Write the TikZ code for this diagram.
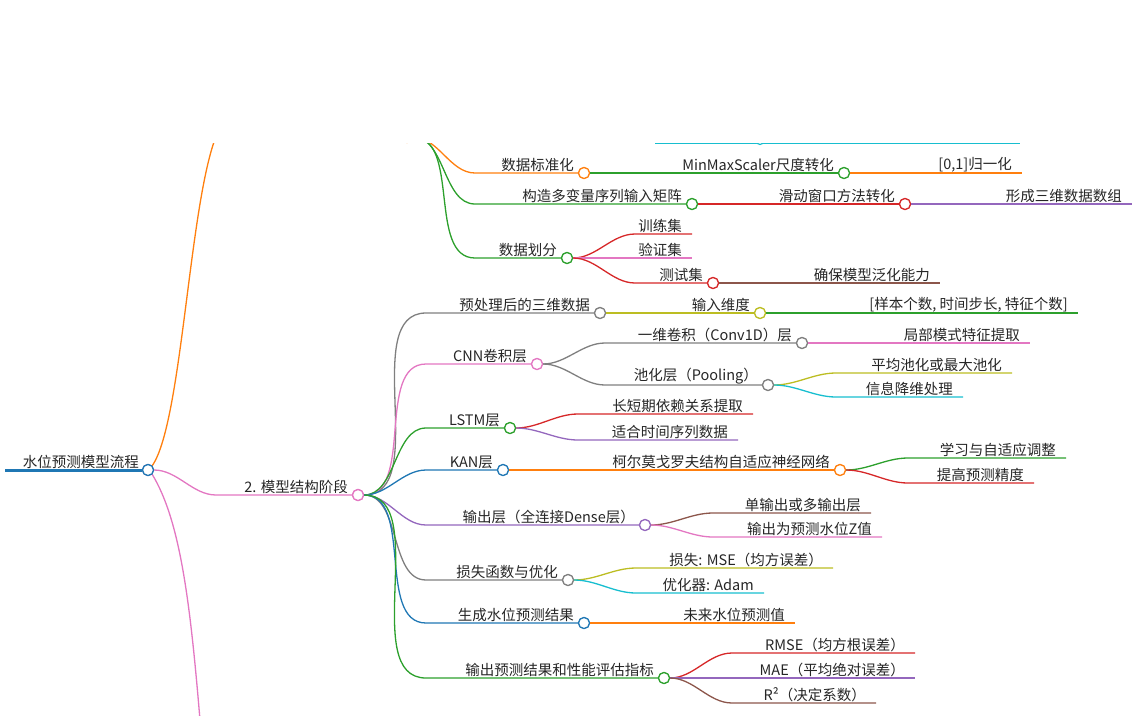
\documentclass[tikz,border=0pt]{standalone}
\usepackage{fontspec}
\setmainfont{Noto Sans CJK SC}
\usetikzlibrary{calc}
\definecolor{cO}{HTML}{FF7F0E}\definecolor{cG}{HTML}{2CA02C}\definecolor{cR}{HTML}{D62728}
\definecolor{cP}{HTML}{9467BD}\definecolor{cB}{HTML}{8C564B}\definecolor{cK}{HTML}{E377C2}
\definecolor{cY}{HTML}{7F7F7F}\definecolor{cL}{HTML}{BCBD22}\definecolor{cC}{HTML}{17BECF}
\definecolor{cU}{HTML}{1F77B4}
\tikzset{dot/.style={circle,draw,fill=white,line width=1.2pt,minimum size=11pt,inner sep=0pt},
 lbl/.style={anchor=south east,inner sep=1pt,font=\fontsize{14.5}{16}\selectfont,text=black!85},
 edge/.style={line width=1.3pt}}
% \br{parent}{name}{xe}{y}{color}{text}{dot? 1/0}
\newcommand\br[7]{%
 \path (#1.center) ++(68,0) coordinate (#2-t);
 \coordinate (#2-s) at (#2-t |- 0,#4);
 \coordinate (#2-e) at (#3,#4);
 \ifnum#7=1 \node[dot,draw=#5] (#2) at (#3,#4) {};\fi
 \draw[edge,#5] (#1.east) to[out=0,in=180,looseness=0.9] (#2-s) -- (#2-e);
 \ifnum#7=1 \node[dot,draw=#5] at (#3,#4) {};\fi
 \node[lbl] (#2-l) at ($(#2-e)+(-9,0)$) {#6};}
\begin{document}
\begin{tikzpicture}[x=1pt,y=-1pt]
\useasboundingbox (0,0) rectangle (1137,715);
\begin{scope}
\clip (0,143) rectangle (1137,715);
% root
\draw[cU,line width=3pt] (5,470) -- (142,470);
\node[lbl] at (140,470) {水位预测模型流程};
\draw[edge,cO] (152,466) .. controls (185,420) and (190,160) .. (225,120);
\draw[edge,cK] (152,474) .. controls (180,520) and (190,600) .. (200,720);
% hidden stage 1 node
\node[dot,draw=cO] (s1) at (407,137) {};
\draw[edge,cC] (655,143) -- (1020,143);
\node[dot,draw=cC] at (760,139) {};
\br{s1}{a1}{584}{173}{cO}{数据标准化}{1}
\br{a1}{a11}{844}{173}{cG}{MinMaxScaler尺度转化}{1}
\br{a11}{a111}{1022}{173}{cO}{[0,1]归一化}{0}
\br{s1}{a2}{692}{204}{cG}{构造多变量序列输入矩阵}{1}
\br{a2}{a21}{905}{204}{cR}{滑动窗口方法转化}{1}
\br{a21}{a211}{1132}{204}{cP}{形成三维数据数组}{0}
\br{s1}{a3}{567}{258}{cG}{数据划分}{1}
\br{a3}{a31}{692}{234}{cR}{训练集}{0}
\br{a3}{a32}{692}{258}{cK}{验证集}{0}
\br{a3}{a33}{713}{283}{cR}{测试集}{1}
\br{a33}{a331}{940}{283}{cB}{确保模型泛化能力}{0}
\node[dot,draw=cO] at (407,137) {};
% stage 2
\node[dot,draw=cK] (root) at (148,470) {};
\node[dot,draw=cU] (root) at (148,470) {};
\br{root}{s2}{358}{495}{cK}{2. 模型结构阶段}{1}
\br{s2}{b1}{600}{313}{cY}{预处理后的三维数据}{1}
\br{b1}{b11}{760}{313}{cL}{输入维度}{1}
\br{b11}{b111}{1078}{313}{cG}{[样本个数, 时间步长, 特征个数]}{0}
\br{s2}{b2}{537}{364}{cK}{CNN卷积层}{1}
\br{b2}{b21}{802}{343}{cY}{一维卷积（Conv1D）层}{1}
\br{b21}{b211}{1030}{343}{cK}{局部模式特征提取}{0}
\br{b2}{b22}{768}{385}{cY}{池化层（Pooling）}{1}
\br{b22}{b221}{1012}{373}{cL}{平均池化或最大池化}{0}
\br{b22}{b222}{963}{397}{cC}{信息降维处理}{0}
\br{s2}{b3}{510}{428}{cG}{LSTM层}{1}
\br{b3}{b31}{753}{414}{cR}{长短期依赖关系提取}{0}
\br{b3}{b32}{738}{440}{cP}{适合时间序列数据}{0}
\br{s2}{b4}{503}{470}{cU}{KAN层}{1}
\br{b4}{b41}{840}{470}{cO}{柯尔莫戈罗夫结构自适应神经网络}{1}
\br{b41}{b411}{1066}{458}{cG}{学习与自适应调整}{0}
\br{b41}{b412}{1034}{483}{cR}{提高预测精度}{0}
\br{s2}{b5}{645}{525}{cP}{输出层（全连接Dense层）}{1}
\br{b5}{b51}{871}{513}{cB}{单输出或多输出层}{0}
\br{b5}{b52}{882}{537}{cK}{输出为预测水位Z值}{0}
\br{s2}{b6}{568}{580}{cY}{损失函数与优化}{1}
\br{b6}{b61}{833}{568}{cL}{损失: MSE（均方误差）}{0}
\br{b6}{b62}{764}{593}{cC}{优化器: Adam}{0}
\br{s2}{b7}{584}{623}{cU}{生成水位预测结果}{1}
\br{b7}{b71}{795}{623}{cO}{未来水位预测值}{0}
\br{s2}{b8}{664}{678}{cG}{输出预测结果和性能评估指标}{1}
\br{b8}{b81}{915}{653}{cR}{RMSE（均方根误差）}{0}
\br{b8}{b82}{915}{678}{cP}{MAE（平均绝对误差）}{0}
\br{b8}{b83}{876}{703}{cB}{R²（决定系数）}{0}
\node[dot,draw=cK] at (358,495) {};
\node[dot,draw=cU] at (148,470) {};
\end{scope}
\end{tikzpicture}
\end{document}
